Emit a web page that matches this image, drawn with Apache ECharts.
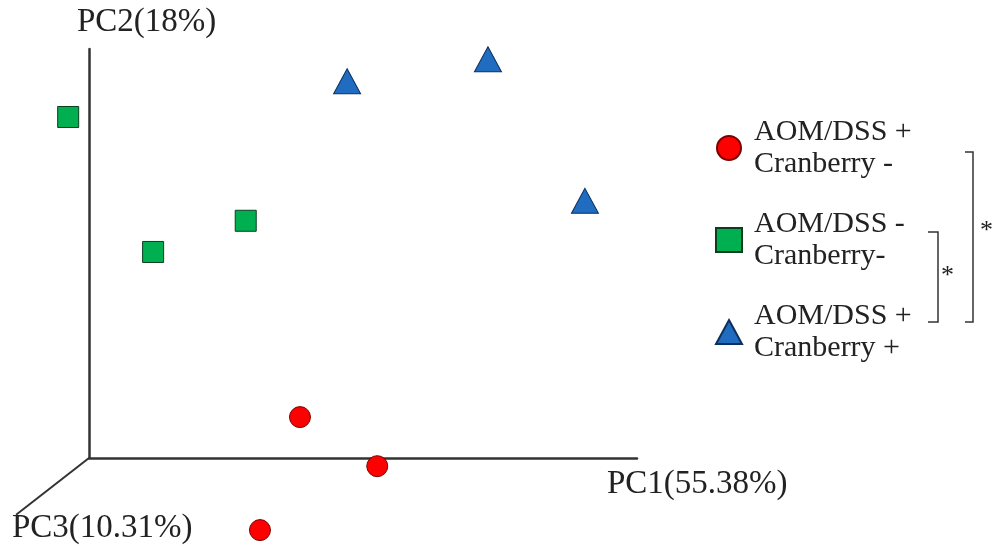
<!DOCTYPE html>
<html>
<head>
<meta charset="utf-8">
<script src="https://cdn.jsdelivr.net/npm/echarts@6/dist/echarts.min.js"></script>
<style>html,body{margin:0;padding:0;background:#fff}#c{width:992px;height:550px}</style>
</head>
<body>
<div id="c"></div>
<script>
// Data (projected PC1 / PC2 plane units)
const seriesNames = ['AOM/DSS +\nCranberry -', 'AOM/DSS -\nCranberry-', 'AOM/DSS +\nCranberry +'];
const redCircles = [[3.85, 0.80], [5.26, -0.16], [3.12, -1.41]];
const greenSquares = [[-0.38, 6.67], [1.17, 4.03], [2.86, 4.64]];
const blueTriangles = [[4.71, 7.37], [7.28, 7.80], [9.05, 5.03]];
const pc3Axis = [[0, 0], [-1.33, -1.11]];
const axisNames = ['PC1(55.38%)', 'PC2(18%)', 'PC3(10.31%)'];

const font = '"Liberation Serif","Times New Roman",serif';
const chart = echarts.init(document.getElementById('c'));
const colors = ['#ff0000', '#00b050', '#1f6cc0'];
const borders = ['#7a0000', '#0c3d1f', '#0d2f5c'];

chart.setOption({
  animation: false,
  backgroundColor: '#fff',
  grid: { left: 89, top: 49, width: 548, height: 409 },
  xAxis: {
    type: 'value', min: 0, max: 10,
    axisLine: { show: true, onZero: true, lineStyle: { color: '#333', width: 2.5 } },
    axisTick: { show: false }, axisLabel: { show: false }, splitLine: { show: false }
  },
  yAxis: {
    type: 'value', min: 0, max: 8,
    axisLine: { show: true, onZero: true, lineStyle: { color: '#333', width: 2.5 } },
    axisTick: { show: false }, axisLabel: { show: false }, splitLine: { show: false }
  },
  legend: {
    orient: 'vertical', left: 710, top: 111, itemGap: 28,
    itemWidth: 26, itemHeight: 24, symbolKeepAspect: true,
    textStyle: { fontFamily: font, fontSize: 30, lineHeight: 32, color: '#222', padding: [0, 0, 0, 7] },
    data: [
      { name: seriesNames[0], icon: 'circle' },
      { name: seriesNames[1], icon: 'rect' },
      { name: seriesNames[2], icon: 'triangle' }
    ]
  },
  series: [
    { name: seriesNames[0], type: 'scatter', data: redCircles, symbol: 'circle', symbolSize: 21, clip: false,
      itemStyle: { color: colors[0], borderColor: borders[0], borderWidth: 1, opacity: 1 } },
    { name: seriesNames[1], type: 'scatter', data: greenSquares, symbol: 'rect', symbolSize: 21, clip: false,
      itemStyle: { color: colors[1], borderColor: borders[1], borderWidth: 1, opacity: 1 } },
    { name: seriesNames[2], type: 'scatter', data: blueTriangles, symbol: 'triangle', symbolSize: [27, 25], clip: false,
      itemStyle: { color: colors[2], borderColor: borders[2], borderWidth: 1, opacity: 1 } }
  ],
  graphic: [
    { type: 'text', left: 77, top: 6, style: { text: axisNames[1], font: '33px ' + font, fill: '#222' } },
    { type: 'text', left: 607, top: 468, style: { text: axisNames[0], font: '33px ' + font, fill: '#222' } },
    { type: 'text', left: 12, top: 512, style: { text: axisNames[2], font: '33px ' + font, fill: '#222' } },
    { type: 'polyline', shape: { points: [[965, 152], [973, 152], [973, 322], [965, 322]] },
      style: { stroke: '#333', lineWidth: 1.5, fill: null } },
    { type: 'polyline', shape: { points: [[928, 232], [938, 232], [938, 322], [928, 322]] },
      style: { stroke: '#333', lineWidth: 1.5, fill: null } },
    { type: 'text', left: 941, top: 263, style: { text: '*', font: '26px ' + font, fill: '#222' } },
    { type: 'text', left: 980, top: 218, style: { text: '*', font: '26px ' + font, fill: '#222' } }
  ]
});

// PC3 axis drawn through the grid's own scale
const p0 = chart.convertToPixel({ gridIndex: 0 }, pc3Axis[0]);
const p1 = chart.convertToPixel({ gridIndex: 0 }, pc3Axis[1]);
chart.setOption({
  graphic: [{ id: 'pc3', type: 'line', shape: { x1: p0[0], y1: p0[1], x2: p1[0], y2: p1[1] },
    style: { stroke: '#333', lineWidth: 2 }, z: 1 }]
});
</script>
</body>
</html>
